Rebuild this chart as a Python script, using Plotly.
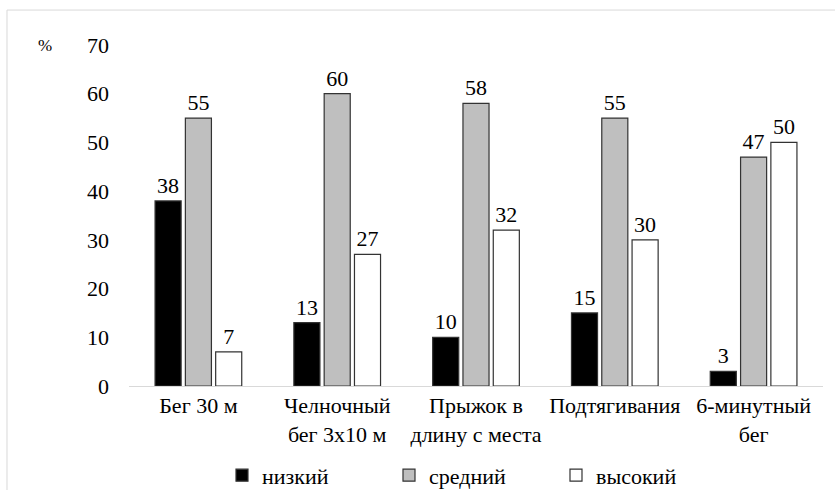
import plotly.graph_objects as go

categories = ["Бег 30 м", "Челночный<br>бег 3х10 м", "Прыжок в<br>длину с места", "Подтягивания", "6-минутный<br>бег"]
low = [38, 13, 10, 15, 3]
mid = [55, 60, 58, 55, 47]
high = [7, 27, 32, 30, 50]
series_names = ["низкий", "средний", "высокий"]
colors = ["#000000", "#bfbfbf", "#ffffff"]
y_ticks = [0, 10, 20, 30, 40, 50, 60, 70]

font = "Liberation Serif"
fs = 22
fig = go.Figure()
for name, vals, col in zip(series_names, [low, mid, high], colors):
    fig.add_trace(go.Bar(
        x=categories, y=vals, name=name,
        marker=dict(color=col, line=dict(color="#333333", width=1.2)),
        text=[str(v) for v in vals], textposition="outside",
        textfont=dict(family=font, size=fs, color="#000"),
        cliponaxis=False,
    ))

fig.update_layout(
    width=835, height=490,
    margin=dict(l=129, r=12, t=45, b=103.5, pad=0, autoexpand=False),
    paper_bgcolor="white", plot_bgcolor="white",
    barmode="group", bargap=0.345, bargroupgap=0.14,
    font=dict(family=font, size=fs, color="#000"),
    showlegend=True,
    legend=dict(orientation="h", x=0.134, xanchor="left", y=-0.262, yanchor="middle",
                entrywidth=122, entrywidthmode="pixels", bgcolor="rgba(0,0,0,0)",
                font=dict(family=font, size=fs), itemwidth=30),
    xaxis=dict(showline=True, linecolor="#d9d9d9", linewidth=1, ticks="",
               tickfont=dict(family=font, size=fs)),
    yaxis=dict(range=[0, 70], tickvals=y_ticks, showgrid=False, zeroline=False, showline=False,
               ticks="", ticklabelstandoff=19, tickfont=dict(family=font, size=fs)),
    shapes=[dict(type="rect", xref="paper", yref="paper",
                 x0=-0.1758, x1=1.2, y0=-0.6, y1=1.1025,
                 line=dict(color="#d9d9d9", width=1), fillcolor="rgba(0,0,0,0)", layer="below")],
    annotations=[dict(text="%", xref="paper", yref="paper", x=-0.121, y=1.0, xanchor="center",
                      showarrow=False, font=dict(family=font, size=17), yanchor="middle")],
)

fig.write_html("out.html", config={"displayModeBar": False},
               post_script="document.body.style.margin='0';")
